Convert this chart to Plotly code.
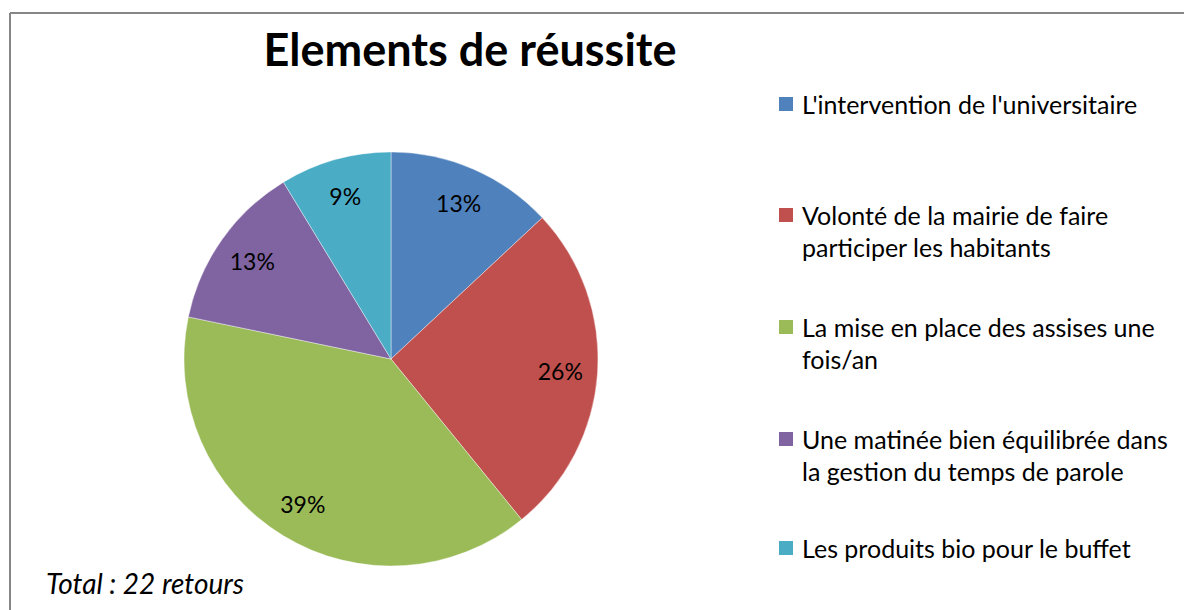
import plotly.graph_objects as go

W, H = 1184, 610

labels = [
    "L'intervention de l'universitaire",
    "Volonté de la mairie de faire<br>participer les habitants",
    "La mise en place des assises une<br>fois/an",
    "Une matinée bien équilibrée dans<br>la gestion du temps de parole",
    "Les produits bio pour le buffet",
]
counts = [3, 6, 9, 3, 2]
colors = ["#4F81BD", "#C0504D", "#9BBB59", "#8064A2", "#4BACC6"]
title_text = "Elements de réussite"
note_text = "Total : 22 retours"

FONT = "Lato"
flat_labels = [l.replace("<br>", " ") for l in labels]
dom = dict(x=[184 / W, 598 / W], y=[(H - 566) / H, (H - 152) / H])

fig = go.Figure()
# full pie (solid slices)
fig.add_trace(go.Pie(
    labels=flat_labels, values=counts, sort=False, direction="clockwise", rotation=0,
    marker=dict(colors=colors, line=dict(color="rgba(255,255,255,0.5)", width=0.8)),
    textinfo="none", showlegend=False, hoverinfo="label+percent", domain=dom,
))
# transparent outer ring of the same slices, used only to place percentage labels near the rim
fig.add_trace(go.Pie(
    labels=flat_labels, values=counts, sort=False, direction="clockwise", rotation=0,
    hole=0.64,
    marker=dict(colors=["rgba(0,0,0,0)"] * len(counts), line=dict(width=0)),
    texttemplate="%{percent:.0%}", textposition="inside",
    insidetextorientation="horizontal",
    textfont=dict(family=FONT, size=23, color="black"),
    showlegend=False, hoverinfo="skip", domain=dom,
))

shapes = [
    dict(type="line", xref="paper", yref="paper", x0=10 / W, x1=10 / W, y0=0, y1=1 - 13 / H,
         line=dict(color="#868686", width=2)),
    dict(type="line", xref="paper", yref="paper", x0=10 / W, x1=1, y0=1 - 13 / H, y1=1 - 13 / H,
         line=dict(color="#868686", width=2)),
]
annotations = []

# legend
first_line_y = [104, 215, 327, 439, 548]
line_gap = 32
for lab, col, y0 in zip(labels, colors, first_line_y):
    shapes.append(dict(type="rect", xref="paper", yref="paper",
                       x0=779 / W, x1=793 / W, y0=1 - (y0 - 7) / H, y1=1 - (y0 + 7) / H,
                       line=dict(width=0), fillcolor=col))
    for k, part in enumerate(lab.split("<br>")):
        annotations.append(dict(text=part, xref="paper", yref="paper",
                                x=800 / W, y=1 - (y0 + k * line_gap) / H,
                                xanchor="left", yanchor="middle", showarrow=False,
                                font=dict(family=FONT, size=25, color="black")))

annotations.append(dict(text="<i>" + note_text + "</i>", xref="paper", yref="paper",
                        x=44 / W, y=1 - 583 / H, xanchor="left", yanchor="middle",
                        showarrow=False, font=dict(family=FONT, size=28, color="black")))

fig.update_layout(
    width=W, height=H,
    margin=dict(l=0, r=0, t=0, b=0),
    paper_bgcolor="white",
    plot_bgcolor="white",
    title=dict(text="<b>" + title_text + "</b>", x=470 / W, xanchor="center",
               y=1 - 50 / H, yanchor="middle",
               font=dict(family=FONT, size=45, color="black")),
    shapes=shapes,
    annotations=annotations,
)

fig.write_html("out.html", config={"displayModeBar": False},
               post_script="document.body.style.margin='0';")
